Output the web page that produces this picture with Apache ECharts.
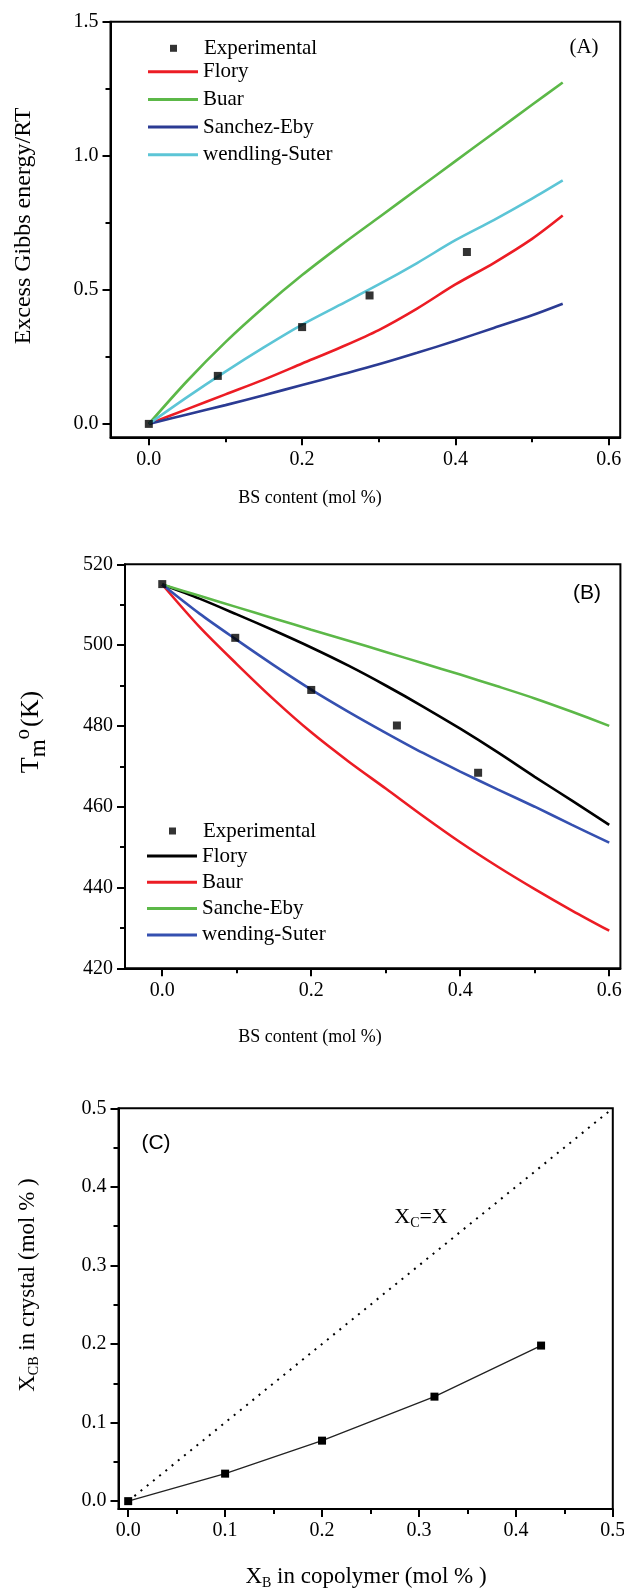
<!DOCTYPE html>
<html><head><meta charset="utf-8">
<script src="https://cdn.jsdelivr.net/npm/echarts@6/dist/echarts.min.js"></script>
<style>html,body{margin:0;padding:0;background:#fff;}.p{position:absolute;left:0;width:624px;}</style>
</head><body>
<div id="a" class="p" style="top:0;height:520px"></div>
<div id="b" class="p" style="top:520px;height:540px"></div>
<div id="c" class="p" style="top:1060px;height:528px"></div>
<script>
// ---------- Panel A data ----------
const xA = [0, 0.05, 0.1, 0.15, 0.2, 0.25, 0.3, 0.35, 0.4, 0.45, 0.5, 0.54];
const floryA = [0, 0.055, 0.11, 0.165, 0.225, 0.285, 0.35, 0.43, 0.52, 0.60, 0.69, 0.777];
const buarA = [0, 0.16, 0.305, 0.435, 0.555, 0.665, 0.77, 0.875, 0.98, 1.085, 1.19, 1.273];
const sanchezA = [0, 0.035, 0.07, 0.107, 0.145, 0.183, 0.222, 0.265, 0.31, 0.358, 0.405, 0.448];
const wendlingA = [0, 0.10, 0.195, 0.285, 0.37, 0.445, 0.52, 0.60, 0.685, 0.76, 0.84, 0.908];
const expAx = [0, 0.09, 0.2, 0.288, 0.415];
const expAy = [0, 0.179, 0.361, 0.479, 0.641];
const ticksAx = [0, 0.2, 0.4, 0.6];
const minorAx = [0.1, 0.3, 0.5];
const ticksAy = [0, 0.5, 1.0, 1.5];
const minorAy = [0.25, 0.75, 1.25];

// ---------- Panel B data ----------
const xB = [0, 0.05, 0.1, 0.15, 0.2, 0.25, 0.3, 0.35, 0.4, 0.45, 0.5, 0.55, 0.6];
const floryB = [515, 511.5, 507.6, 503.6, 499.4, 494.9, 490, 484.8, 479.3, 473.5, 467.4, 461.5, 455.5];
const baurB = [515, 504.5, 495.3, 486.5, 478.4, 471.2, 464.5, 457.7, 451.2, 445.2, 439.6, 434.3, 429.3];
const sancheB = [515, 512.2, 509.4, 506.6, 503.8, 501.1, 498.3, 495.5, 492.7, 489.8, 486.8, 483.5, 480];
const wendingB = [515, 507.8, 501.3, 495, 489, 483.5, 478.3, 473.3, 468.7, 464.3, 460, 455.5, 451.1];
const expBx = [0, 0.098, 0.2, 0.315, 0.424];
const expBy = [515.1, 501.8, 488.9, 480.1, 468.4];
const ticksBx = [0, 0.2, 0.4, 0.6];
const minorBx = [0.1, 0.3, 0.5];
const ticksBy = [420, 440, 460, 480, 500, 520];
const minorBy = [430, 450, 470, 490, 510];

// ---------- Panel C data ----------
const xC = [0, 0.1, 0.2, 0.316, 0.426];
const yC = [0, 0.035, 0.077, 0.133, 0.198];
const refX = [0, 0.5];
const refY = [0, 0.5];
const ticksC = [0, 0.1, 0.2, 0.3, 0.4, 0.5];
const minorC = [0.05, 0.15, 0.25, 0.35, 0.45];

const SERIF = '"Liberation Serif","Times New Roman",serif';
const SANS = '"Liberation Sans",Arial,sans-serif';
const RED = '#ec1c24', GREEN = '#5cb848', NAVY = '#2b3b93', CYAN = '#5cc5d6', BLUE = '#3550b0';

function zip(xs, ys) { return xs.map((x, i) => [x, ys[i]]); }

function axes(min, max, position, major, minor, digits) {
  const main = {
    type: 'value', gridIndex: 0, min: min, max: max, position: position,
    axisLine: {show: true, onZero: false, lineStyle: {color: '#000', width: 2}},
    axisTick: {show: true, inside: false, length: 8, customValues: major, lineStyle: {color: '#000', width: 2}},
    axisLabel: {show: true, customValues: major, margin: 12, formatter: v => Number(v).toFixed(digits),
      fontFamily: SERIF, fontSize: 20, color: '#000'},
    splitLine: {show: false}, minorTick: {show: false}
  };
  const mnr = {
    type: 'value', gridIndex: 0, min: min, max: max, position: position,
    axisLine: {show: false, onZero: false},
    axisTick: {show: true, inside: false, length: 5, customValues: minor, lineStyle: {color: '#000', width: 2}},
    axisLabel: {show: false}, splitLine: {show: false}
  };
  return [main, mnr];
}

function lineSeries(name, xs, ys, color, width) {
  return {type: 'line', name: name, data: zip(xs, ys), symbol: 'none', showSymbol: false,
    smooth: 0.3, lineStyle: {color: color, width: width || 2.6}, itemStyle: {color: color},
    xAxisIndex: 0, yAxisIndex: 0, animation: false};
}
function expSeries(xs, ys) {
  return {type: 'scatter', name: 'Experimental', data: zip(xs, ys), symbol: 'rect', symbolSize: 8,
    itemStyle: {color: '#000'}, xAxisIndex: 0, yAxisIndex: 0, z: 5, animation: false};
}
function legendDefs(top1, top2, left, names, gap) {
  const ts = {fontFamily: SERIF, fontSize: 21, color: '#000', lineHeight: 22};
  return [
    {data: [{name: 'Experimental', icon: 'rect'}], orient: 'vertical', left: left + 22, top: top1, padding: 0,
      itemWidth: 7, itemHeight: 7, itemGap: 0, selectedMode: false,
      textStyle: Object.assign({}, ts, {padding: [0, 0, 0, 22]})},
    {data: names.map(n => ({name: n, icon: 'rect'})), orient: 'vertical', left: left, top: top2, padding: 0,
      itemWidth: 50, itemHeight: 3, itemGap: gap, textStyle: ts, selectedMode: false}
  ];
}
function txt(x, y, text, font, rot, rich) {
  const st = {text: text, font: font, fill: '#000', align: 'center', verticalAlign: 'middle',
    textAlign: 'center', textVerticalAlign: 'middle'};
  if (rich) st.rich = rich;
  return {type: 'text', x: x, y: y, rotation: rot || 0, style: st, z: 10};
}
const gridBase = {show: true, borderColor: '#000', borderWidth: 2, backgroundColor: 'transparent',
  containLabel: false, outerBoundsMode: 'none'};

// ---------- Chart A ----------
const [axA, axAm] = axes(-0.05, 0.615, 'bottom', ticksAx, minorAx, 1);
const [ayA, ayAm] = axes(-0.05, 1.5, 'left', ticksAy, minorAy, 1);
const chartA = echarts.init(document.getElementById('a'), null, {renderer: 'canvas'});
chartA.setOption({
  animation: false,
  grid: Object.assign({left: 110.5, top: 21.7, width: 509.7, height: 415.6}, gridBase),
  xAxis: [axA, axAm], yAxis: [ayA, ayAm],
  legend: legendDefs(37.3, 60.7, 148, ['Flory', 'Buar', 'Sanchez-Eby', 'wendling-Suter'], 5.7),
  series: [
    lineSeries('Flory', xA, floryA, RED),
    lineSeries('Buar', xA, buarA, GREEN),
    lineSeries('Sanchez-Eby', xA, sanchezA, NAVY),
    lineSeries('wendling-Suter', xA, wendlingA, CYAN),
    expSeries(expAx, expAy)
  ],
  graphic: [
    txt(584, 47, '(A)', '21px ' + SERIF),
    txt(24, 226, 'Excess Gibbs energy/RT', '24px ' + SERIF, Math.PI / 2),
    txt(310, 498, 'BS content (mol %)', '18px ' + SERIF)
  ]
});

// ---------- Chart B ----------
const [axB, axBm] = axes(-0.05, 0.615, 'bottom', ticksBx, minorBx, 1);
const [ayB, ayBm] = axes(420, 520, 'left', ticksBy, minorBy, 0);
const chartB = echarts.init(document.getElementById('b'), null, {renderer: 'canvas'});
chartB.setOption({
  animation: false,
  grid: Object.assign({left: 125, top: 44.3, width: 495.4, height: 404}, gridBase),
  xAxis: [axB, axBm], yAxis: [ayB, ayBm],
  legend: legendDefs(300, 325, 147, ['Flory', 'Baur', 'Sanche-Eby', 'wending-Suter'], 4.3),
  series: [
    lineSeries('Flory', xB, floryB, '#000'),
    lineSeries('Baur', xB, baurB, RED),
    lineSeries('Sanche-Eby', xB, sancheB, GREEN),
    lineSeries('wending-Suter', xB, wendingB, BLUE),
    expSeries(expBx, expBy)
  ],
  graphic: [
    txt(587, 73, '(B)', '21px ' + SANS),
    txt(31, 212, '{t|T}{m|m}{o|o}{t|(K)}', '26px ' + SERIF, Math.PI / 2, {
      t: {fontFamily: SERIF, fontSize: 26, fill: '#000'},
      m: {fontFamily: SERIF, fontSize: 23, fill: '#000', padding: [16, 0, 0, 0]},
      o: {fontFamily: SERIF, fontSize: 21, fill: '#000', padding: [0, 2, 16, 0]}
    }),
    txt(310, 517, 'BS content (mol %)', '18px ' + SERIF)
  ]
});

// ---------- Chart C ----------
const [axC, axCm] = axes(-0.01, 0.5, 'bottom', ticksC, minorC, 1);
const [ayC, ayCm] = axes(-0.01, 0.5, 'left', ticksC, minorC, 1);
const chartC = echarts.init(document.getElementById('c'), null, {renderer: 'canvas'});
const subRich = {
  a: {fontFamily: SERIF, fontSize: 23, fill: '#000'},
  s: {fontFamily: SERIF, fontSize: 14, fill: '#000', padding: [12, 0, 0, 0]}
};
chartC.setOption({
  animation: false,
  grid: Object.assign({left: 118.5, top: 48.3, width: 494.3, height: 400.7}, gridBase),
  xAxis: [axC, axCm], yAxis: [ayC, ayCm],
  series: [
    {type: 'line', name: 'Xc=X', data: zip(refX, refY), symbol: 'none', showSymbol: false,
      lineStyle: {color: '#000', width: 2, type: [2, 6]}, xAxisIndex: 0, yAxisIndex: 0, animation: false},
    {type: 'line', name: 'XCB', data: zip(xC, yC), symbol: 'rect', symbolSize: 8, showSymbol: true,
      lineStyle: {color: '#222', width: 1.3}, itemStyle: {color: '#000'}, xAxisIndex: 0, yAxisIndex: 0, z: 5, animation: false}
  ],
  graphic: [
    txt(156, 83, '(C)', '21px ' + SANS),
    txt(421, 157, '{a|X}{s|C}{a|=X}', '22px ' + SERIF, 0, {
      a: {fontFamily: SERIF, fontSize: 22, fill: '#000'},
      s: {fontFamily: SERIF, fontSize: 14, fill: '#000', padding: [12, 0, 0, 0]}
    }),
    txt(28, 225, '{a|X}{s|CB}{a| in crystal (mol % )}', '23px ' + SERIF, Math.PI / 2, subRich),
    txt(366, 517, '{a|X}{s|B}{a| in copolymer (mol % )}', '23px ' + SERIF, 0, subRich)
  ]
});
</script></body></html>
